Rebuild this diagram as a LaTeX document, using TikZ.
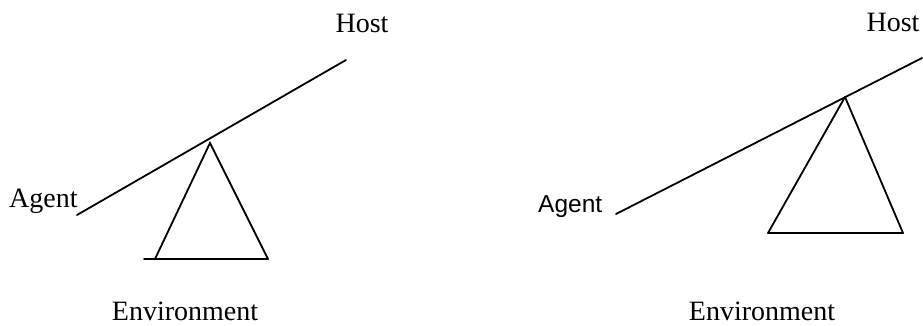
\documentclass[tikz,border=0pt]{standalone}
\usepackage{fontspec}
\setmainfont{Liberation Serif}
\newfontfamily\arialfont{Liberation Sans}
\begin{document}
\begin{tikzpicture}[x=1pt,y=-1pt,
  serifl/.style={inner sep=0pt,font=\fontsize{28}{31}\selectfont},
  sansl/.style={inner sep=0pt,font=\arialfont\fontsize{24.5}{28}\selectfont},
  bar/.style={line width=1.8pt,line cap=round,line join=miter}]
\useasboundingbox (0,0) rectangle (923,326);
% left diagram
\coordinate (la) at (77,215);
\coordinate (lh) at (346,60);
\coordinate (lt) at (210,143);
\coordinate (lbl) at (155,259);
\coordinate (lbr) at (268,259);
\coordinate (lbe) at (144,259);
\draw[bar] (la) -- (lh);
\draw[bar] (lbl) -- (lt) -- (lbr);
\draw[bar] (lbe) -- (lbr);
\node[serifl,anchor=base] (hostl) at (362,33) {Host};
\node[serifl,anchor=base west] (agentl) at (9,207) {Agent};
\node[serifl,anchor=base] (envl) at (185,320) {Environment};
% right diagram
\coordinate (ra) at (616,214);
\coordinate (rh) at (922,58);
\coordinate (rt) at (845,97);
\coordinate (rbl) at (768,233);
\coordinate (rbr) at (903,233);
\draw[bar] (ra) -- (rh);
\draw[bar,line join=round] (rt) -- (rbl) -- (rbr) -- cycle;
\node[serifl,anchor=base] (hostr) at (893,32) {Host};
\node[sansl,anchor=base west] (agentr) at (538,212) {Agent};
\node[serifl,anchor=base] (envr) at (762,320) {Environment};
\end{tikzpicture}
\end{document}
